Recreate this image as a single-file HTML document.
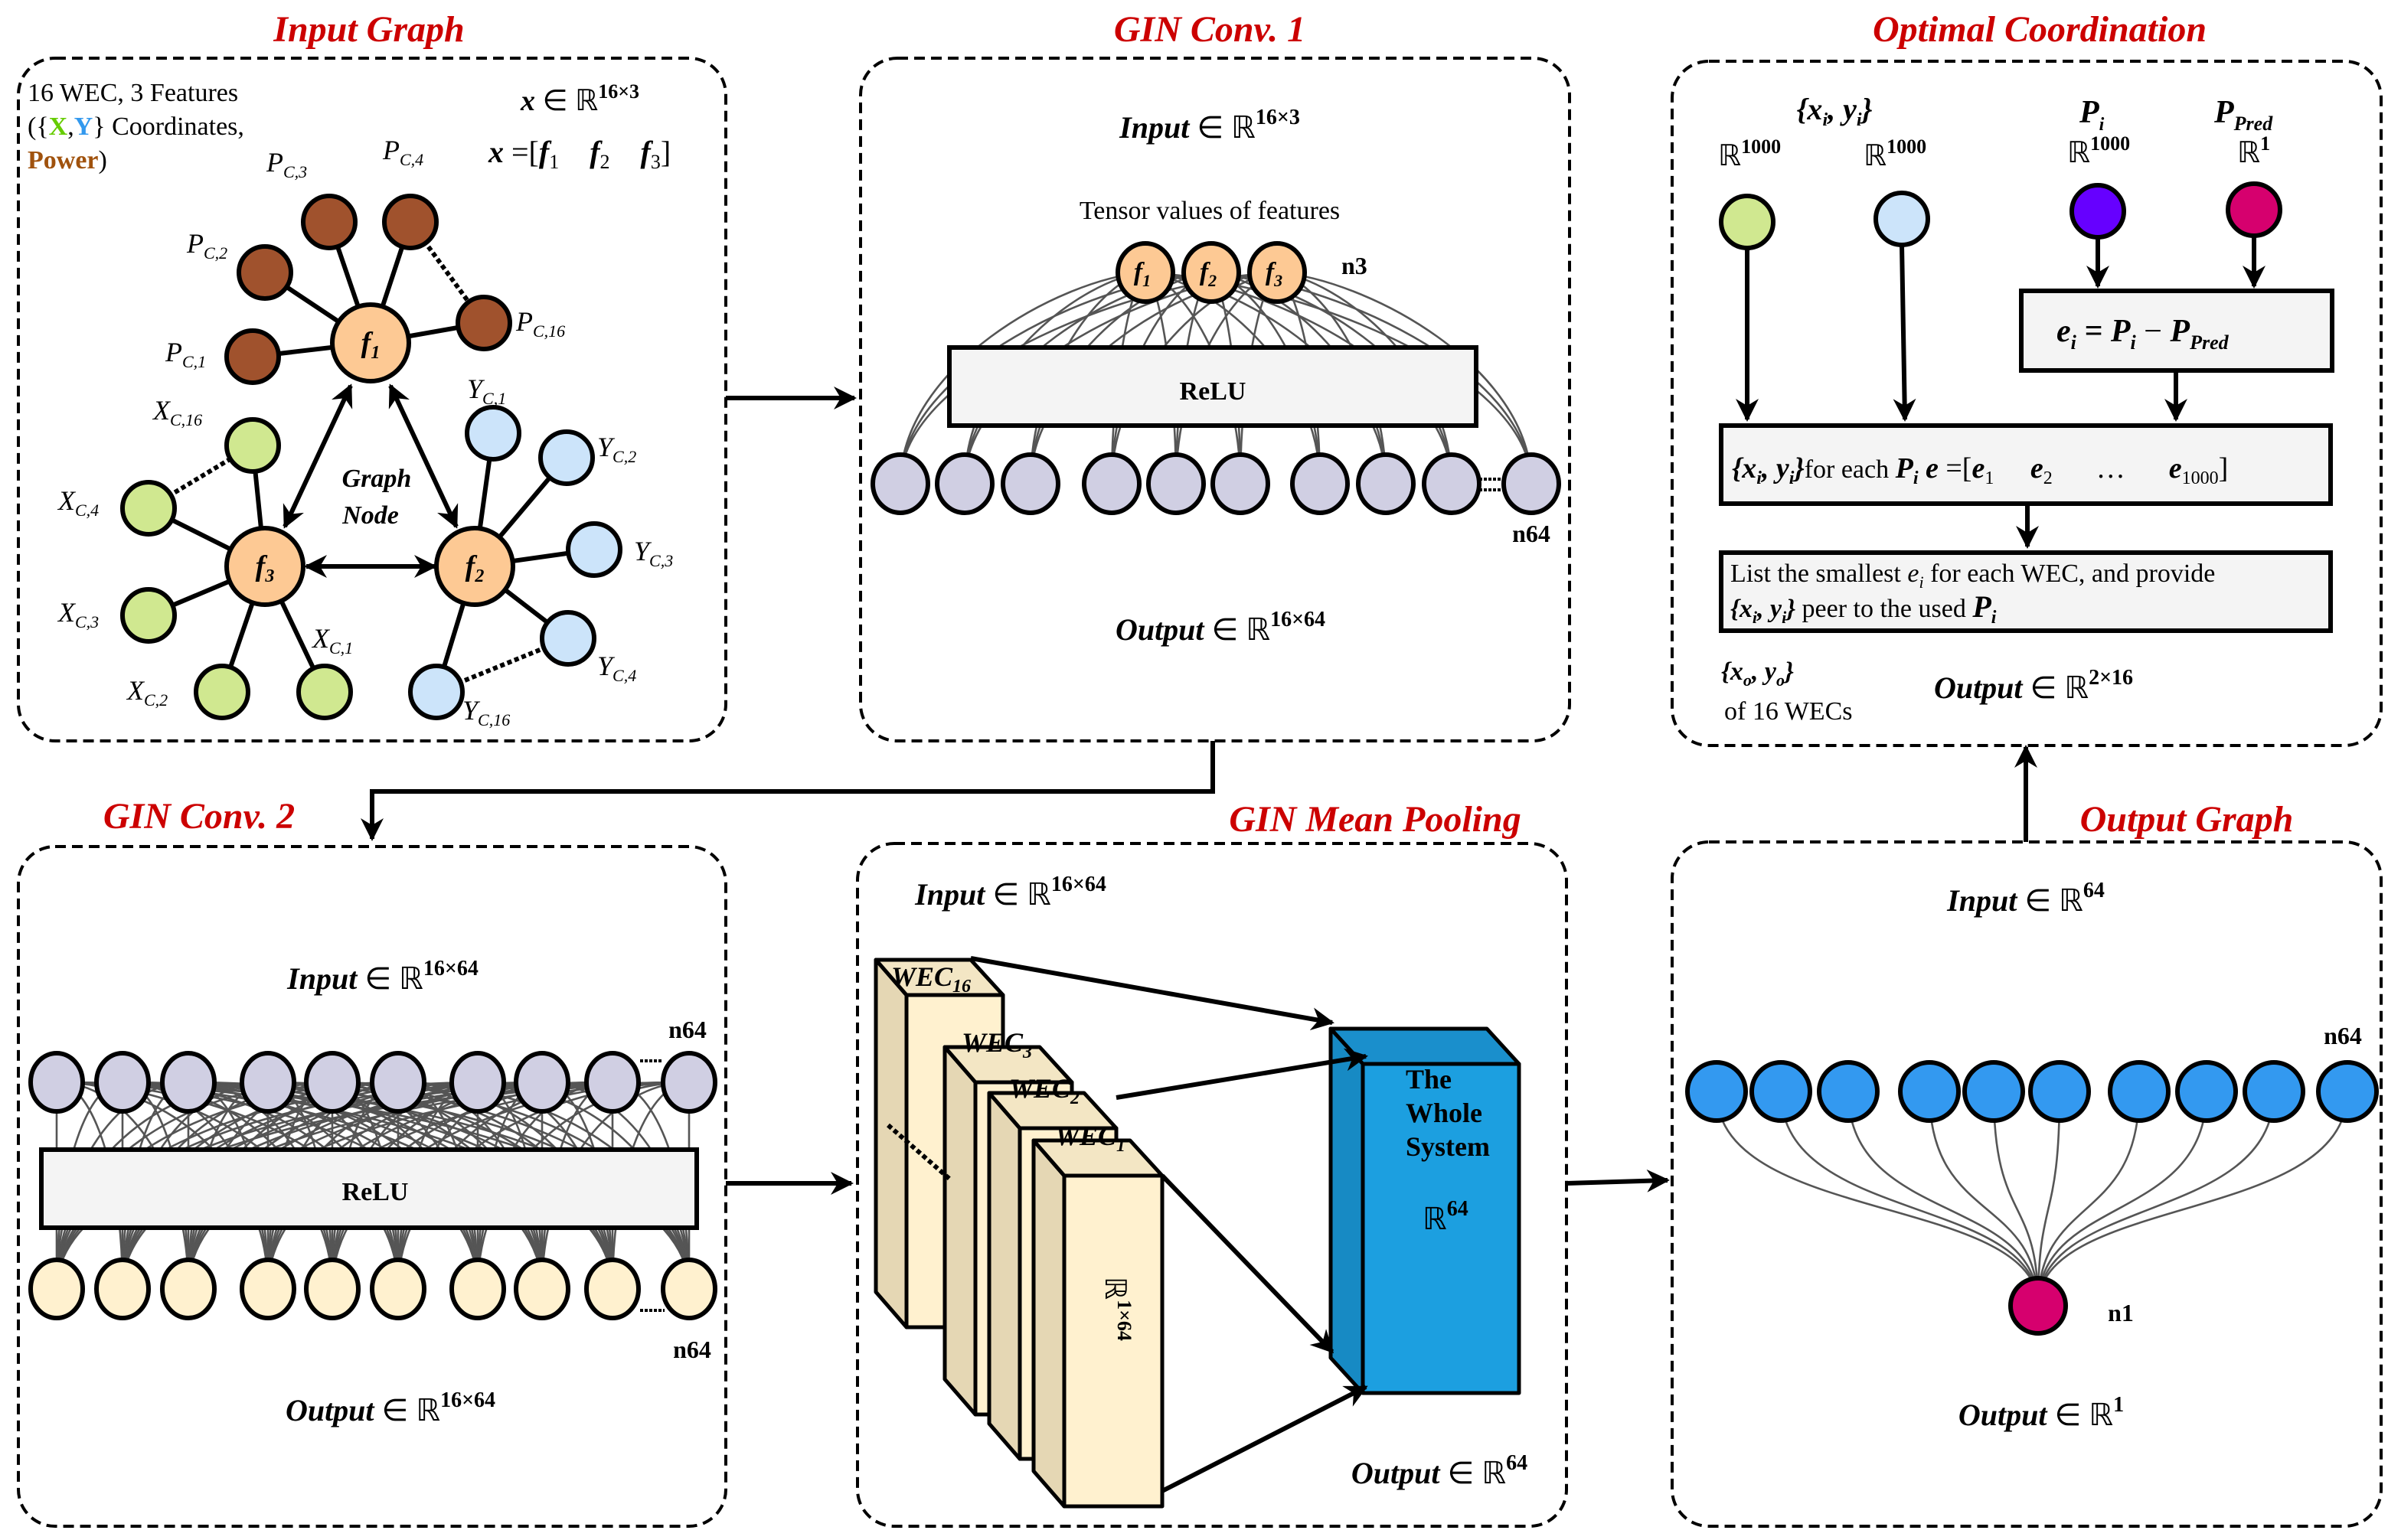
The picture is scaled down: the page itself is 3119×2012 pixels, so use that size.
<!DOCTYPE html>
<html><head><meta charset="utf-8"><style>
html,body{margin:0;padding:0;background:#fff;}
svg{display:block;}
text{font-family:"Liberation Serif",serif;}
.t{fill:#cc0000;font-weight:bold;font-style:italic;font-size:24px;text-anchor:middle;}
.m{font-style:italic;font-weight:bold;}
.pn{fill:none;stroke:#000;stroke-width:2;stroke-dasharray:7,4;}
.ar{stroke:#000;stroke-width:3;fill:none;}
.pre{white-space:pre;}
</style></head><body>
<svg id="s" width="3119" height="2012" viewBox="0 0 1559.5 1006" xmlns="http://www.w3.org/2000/svg">
<defs>
<marker id="ah" viewBox="0 0 10 10" refX="9" refY="5" markerWidth="5" markerHeight="5" orient="auto-start-reverse"><path d="M0,0 L10,5 L0,10 L3,5z" fill="#000"/></marker>
</defs>
<rect width="1559.5" height="1006" fill="#fff"/>
<rect class="pn" x="12" y="38" width="462" height="446" rx="24"/>
<rect class="pn" x="562" y="38" width="463" height="446" rx="24"/>
<rect class="pn" x="1092" y="40" width="463" height="447" rx="24"/>
<rect class="pn" x="12" y="553" width="462" height="444" rx="24"/>
<rect class="pn" x="560" y="551" width="463" height="446" rx="24"/>
<rect class="pn" x="1092" y="550" width="463" height="447" rx="24"/>
<text class="t" x="241" y="27">Input Graph</text>
<text class="t" x="790" y="27">GIN Conv. 1</text>
<text class="t" x="1332" y="27">Optimal Coordination</text>
<text class="t" x="130" y="541">GIN Conv. 2</text>
<text class="t" x="898" y="543">GIN Mean Pooling</text>
<text class="t" x="1428" y="543">Output Graph</text>
<path class="ar" d="M474,260 L558,260" marker-end="url(#ah)"/>
<path class="ar" d="M792,484 L792,517 L243,517 L243,548" marker-end="url(#ah)"/>
<path class="ar" d="M474,773 L556,773" marker-end="url(#ah)"/>
<path class="ar" d="M1023,773 L1089,771" marker-end="url(#ah)"/>
<path class="ar" d="M1323,550 L1323,488" marker-end="url(#ah)"/>

<g id="lines" stroke="#555" stroke-width="1.3" fill="none"></g>

<!-- INPUT GRAPH -->
<g stroke="#000" stroke-width="3">
<line x1="242" y1="224" x2="165" y2="233"/><line x1="242" y1="224" x2="173" y2="178"/><line x1="242" y1="224" x2="215" y2="145"/><line x1="242" y1="224" x2="268" y2="145"/><line x1="242" y1="224" x2="316" y2="211"/>
<line x1="173" y1="370" x2="165" y2="291"/><line x1="173" y1="370" x2="97" y2="332"/><line x1="173" y1="370" x2="97" y2="402"/><line x1="173" y1="370" x2="145" y2="452"/><line x1="173" y1="370" x2="212" y2="452"/>
<line x1="310" y1="370" x2="322" y2="283"/><line x1="310" y1="370" x2="370" y2="299"/><line x1="310" y1="370" x2="388" y2="359"/><line x1="310" y1="370" x2="371" y2="417"/><line x1="310" y1="370" x2="285" y2="452"/>
</g>
<g stroke="#000" stroke-width="3" stroke-dasharray="3,2"><line x1="268" y1="145" x2="316" y2="211"/><line x1="97" y1="332" x2="165" y2="291"/><line x1="285" y1="452" x2="371" y2="417"/></g>
<g stroke="#000" stroke-width="3" fill="none">
<path d="M229,252 L186,344" marker-start="url(#ah)" marker-end="url(#ah)"/>
<path d="M255,252 L298,344" marker-start="url(#ah)" marker-end="url(#ah)"/>
<path d="M200,370 L284,370" marker-start="url(#ah)" marker-end="url(#ah)"/>
</g>
<g stroke="#000" stroke-width="3">
<g fill="#a0522d"><circle cx="165" cy="233" r="17"/><circle cx="173" cy="178" r="17"/><circle cx="215" cy="145" r="17"/><circle cx="268" cy="145" r="17"/><circle cx="316" cy="211" r="17"/></g>
<g fill="#d0e890"><circle cx="165" cy="291" r="17"/><circle cx="97" cy="332" r="17"/><circle cx="97" cy="402" r="17"/><circle cx="145" cy="452" r="17"/><circle cx="212" cy="452" r="17"/></g>
<g fill="#cce4fa"><circle cx="322" cy="283" r="17"/><circle cx="370" cy="299" r="17"/><circle cx="388" cy="359" r="17"/><circle cx="371" cy="417" r="17"/><circle cx="285" cy="452" r="17"/></g>
<g fill="#fdc994"><circle cx="242" cy="224" r="25"/><circle cx="310" cy="370" r="25"/><circle cx="173" cy="370" r="25"/></g>
</g>
<g class="m" font-size="19" text-anchor="middle">
<text x="242" y="230">f<tspan font-size="12" dy="4">1</tspan></text><text x="310" y="376">f<tspan font-size="12" dy="4">2</tspan></text><text x="173" y="376">f<tspan font-size="12" dy="4">3</tspan></text>
</g>
<g font-style="italic" font-size="18">
<text x="108" y="236">P<tspan font-size="11" dy="4">C,1</tspan></text>
<text x="122" y="165">P<tspan font-size="11" dy="4">C,2</tspan></text>
<text x="174" y="112">P<tspan font-size="11" dy="4">C,3</tspan></text>
<text x="250" y="104">P<tspan font-size="11" dy="4">C,4</tspan></text>
<text x="337" y="216">P<tspan font-size="11" dy="4">C,16</tspan></text>
<text x="100" y="274">X<tspan font-size="11" dy="4">C,16</tspan></text>
<text x="38" y="333">X<tspan font-size="11" dy="4">C,4</tspan></text>
<text x="38" y="406">X<tspan font-size="11" dy="4">C,3</tspan></text>
<text x="83" y="457">X<tspan font-size="11" dy="4">C,2</tspan></text>
<text x="204" y="423">X<tspan font-size="11" dy="4">C,1</tspan></text>
<text x="305" y="260">Y<tspan font-size="11" dy="4">C,1</tspan></text>
<text x="390" y="298">Y<tspan font-size="11" dy="4">C,2</tspan></text>
<text x="414" y="366">Y<tspan font-size="11" dy="4">C,3</tspan></text>
<text x="390" y="441">Y<tspan font-size="11" dy="4">C,4</tspan></text>
<text x="302" y="470">Y<tspan font-size="11" dy="4">C,16</tspan></text>
</g>
<text x="246" y="318" class="m" font-size="17" text-anchor="middle">Graph</text>
<text x="242" y="342" class="m" font-size="17" text-anchor="middle">Node</text>
<text x="18" y="66" font-size="17">16 WEC, 3 Features</text>
<text x="18" y="88" font-size="17">({<tspan fill="#66cc00" font-weight="bold">X</tspan>,<tspan fill="#3399ee" font-weight="bold">Y</tspan>} Coordinates,</text>
<text x="18" y="110" font-size="17"><tspan fill="#a0520d" font-weight="bold">Power</tspan>)</text>
<text x="340" y="72" font-size="19"><tspan class="m">x</tspan> ∈ ℝ<tspan font-size="13" dy="-8" font-weight="bold">16×3</tspan></text>
<text x="319" y="106" font-size="20" class="pre"><tspan class="m">x</tspan> =[<tspan class="m">f</tspan><tspan font-size="13" dy="4">1</tspan><tspan dy="-4" class="m">    f</tspan><tspan font-size="13" dy="4">2</tspan><tspan dy="-4" class="m">    f</tspan><tspan font-size="13" dy="4">3</tspan><tspan dy="-4">]</tspan></text>

<!-- GIN CONV 1 -->
<text x="790" y="90" font-size="20" text-anchor="middle"><tspan class="m">Input</tspan> ∈ ℝ<tspan font-size="14" dy="-9" font-weight="bold">16×3</tspan></text>
<text x="790" y="143" font-size="17" text-anchor="middle">Tensor values of features</text>
<rect x="620" y="227" width="344" height="51" fill="#f4f4f4" stroke="#000" stroke-width="3"/>
<text x="792" y="261" font-size="17" font-weight="bold" text-anchor="middle">ReLU</text>
<g stroke="#000" stroke-width="3" fill="#fdc994"><ellipse cx="748" cy="178" rx="18" ry="19"/><ellipse cx="791" cy="178" rx="18" ry="19"/><ellipse cx="834" cy="178" rx="18" ry="19"/></g>
<g class="m" font-size="17" text-anchor="middle"><text x="746" y="183">f<tspan font-size="11" dy="4">1</tspan></text><text x="789" y="183">f<tspan font-size="11" dy="4">2</tspan></text><text x="832" y="183">f<tspan font-size="11" dy="4">3</tspan></text></g>
<text x="876" y="179" font-size="16" font-weight="bold">n3</text>
<line x1="966" y1="313" x2="982" y2="313" stroke="#000" stroke-width="2" stroke-dasharray="2,1"/><line x1="966" y1="320" x2="982" y2="320" stroke="#000" stroke-width="2" stroke-dasharray="2,1"/>
<g id="c1b" stroke="#000" stroke-width="3" fill="#d0cfe3"></g>
<text x="1000" y="354" font-size="16" font-weight="bold" text-anchor="middle">n64</text>
<text x="797" y="418" font-size="20" text-anchor="middle"><tspan class="m">Output</tspan> ∈ ℝ<tspan font-size="14" dy="-9" font-weight="bold">16×64</tspan></text>

<!-- GIN CONV 2 -->
<text x="250" y="646" font-size="20" text-anchor="middle"><tspan class="m">Input</tspan> ∈ ℝ<tspan font-size="14" dy="-9" font-weight="bold">16×64</tspan></text>
<rect x="27" y="751" width="428" height="51" fill="#f4f4f4" stroke="#000" stroke-width="3"/>
<text x="245" y="784" font-size="17" font-weight="bold" text-anchor="middle">ReLU</text>
<line x1="418" y1="693" x2="432" y2="693" stroke="#000" stroke-width="2" stroke-dasharray="2,1"/>
<line x1="418" y1="856" x2="434" y2="856" stroke="#000" stroke-width="2" stroke-dasharray="2,1"/>
<g id="c2t" stroke="#000" stroke-width="3" fill="#d0cfe3"></g>
<g id="c2b" stroke="#000" stroke-width="3" fill="#fff1cf"></g>
<text x="449" y="678" font-size="16" font-weight="bold" text-anchor="middle">n64</text>
<text x="452" y="887" font-size="16" font-weight="bold" text-anchor="middle">n64</text>
<text x="255" y="928" font-size="20" text-anchor="middle"><tspan class="m">Output</tspan> ∈ ℝ<tspan font-size="14" dy="-9" font-weight="bold">16×64</tspan></text>

<!-- MEAN POOLING -->
<text x="660" y="591" font-size="20" text-anchor="middle"><tspan class="m">Input</tspan> ∈ ℝ<tspan font-size="14" dy="-9" font-weight="bold">16×64</tspan></text>
<g stroke="#000" stroke-width="2.5" stroke-linejoin="round">
<g><path d="M572,627 L592,650 L592,867 L572,844Z" fill="#e5d7b4"/><path d="M572,627 L634,627 L655,650 L592,650Z" fill="#f3e6c4"/><rect x="592" y="650" width="63" height="217" fill="#fff1cf"/></g>
<g><path d="M617,684 L637,707 L637,924 L617,901Z" fill="#e5d7b4"/><path d="M617,684 L679,684 L700,707 L637,707Z" fill="#f3e6c4"/><rect x="637" y="707" width="63" height="217" fill="#fff1cf"/></g>
<g><path d="M646,714 L666,737 L666,953 L646,930Z" fill="#e5d7b4"/><path d="M646,714 L708,714 L729,737 L666,737Z" fill="#f3e6c4"/><rect x="666" y="737" width="63" height="216" fill="#fff1cf"/></g>
<g><path d="M675,745 L695,768 L695,984 L675,961Z" fill="#e5d7b4"/><path d="M675,745 L738,745 L759,768 L695,768Z" fill="#f3e6c4"/><rect x="695" y="768" width="64" height="216" fill="#fff1cf"/></g>
<path d="M869,672 L971,672 L992,695 L890,695Z" fill="#1a8fcc"/><path d="M869,672 L890,695 L890,910 L869,887Z" fill="#178ac4"/><rect x="890" y="695" width="102" height="215" fill="#1c9fe0"/>
</g>
<line x1="580" y1="735" x2="620" y2="770" stroke="#000" stroke-width="3" stroke-dasharray="3,2"/>
<g class="m" font-size="18" font-weight="normal"><text x="582" y="644">WEC<tspan font-size="12" dy="4">16</tspan></text><text x="628" y="687">WEC<tspan font-size="12" dy="4">3</tspan></text><text x="659" y="717">WEC<tspan font-size="12" dy="4">2</tspan></text><text x="689" y="748">WEC<tspan font-size="12" dy="4">1</tspan></text></g>
<text transform="translate(722,834) rotate(90)" font-size="19">ℝ<tspan font-size="13" dy="-8" font-weight="bold">1×64</tspan></text>
<g stroke="#000" stroke-width="3" fill="none">
<path d="M634,626 L870,668" marker-end="url(#ah)"/>
<path d="M729,717 L892,690" marker-end="url(#ah)"/>
<path d="M759,768 L870,883" marker-end="url(#ah)"/>
<path d="M759,974 L892,906" marker-end="url(#ah)"/>
</g>
<g font-size="18" font-weight="bold"><text x="918" y="711">The</text><text x="918" y="733">Whole</text><text x="918" y="755">System</text></g>
<text x="929" y="803" font-size="20">ℝ<tspan font-size="14" dy="-9" font-weight="bold">64</tspan></text>
<text x="940" y="969" font-size="20" text-anchor="middle"><tspan class="m">Output</tspan> ∈ ℝ<tspan font-size="14" dy="-9" font-weight="bold">64</tspan></text>

<!-- OUTPUT GRAPH -->
<text x="1323" y="595" font-size="20" text-anchor="middle"><tspan class="m">Input</tspan> ∈ ℝ<tspan font-size="14" dy="-9" font-weight="bold">64</tspan></text>
<g id="og" stroke="#000" stroke-width="3" fill="#3399f0"></g>
<circle cx="1331" cy="853" r="18" fill="#d6006e" stroke="#000" stroke-width="3"/>
<text x="1530" y="682" font-size="16" font-weight="bold" text-anchor="middle">n64</text>
<text x="1385" y="863" font-size="16" font-weight="bold" text-anchor="middle">n1</text>
<text x="1333" y="931" font-size="20" text-anchor="middle"><tspan class="m">Output</tspan> ∈ ℝ<tspan font-size="14" dy="-9" font-weight="bold">1</tspan></text>

<!-- OPTIMAL COORDINATION -->
<text x="1198" y="78" font-size="20" class="m" text-anchor="middle">{x<tspan font-size="12" dy="4">i</tspan><tspan dy="-4">, y</tspan><tspan font-size="12" dy="4">i</tspan><tspan dy="-4">}</tspan></text>
<text x="1122" y="108" font-size="19">ℝ<tspan font-size="13" dy="-8" font-weight="bold">1000</tspan></text>
<text x="1217" y="108" font-size="19">ℝ<tspan font-size="13" dy="-8" font-weight="bold">1000</tspan></text>
<text x="1358" y="80" font-size="21" class="m">P<tspan font-size="12" dy="5">i</tspan></text>
<text x="1350" y="106" font-size="19">ℝ<tspan font-size="13" dy="-8" font-weight="bold">1000</tspan></text>
<text x="1446" y="80" font-size="21" class="m">P<tspan font-size="13" dy="5">Pred</tspan></text>
<text x="1461" y="106" font-size="19">ℝ<tspan font-size="13" dy="-8" font-weight="bold">1</tspan></text>
<g stroke="#000" stroke-width="3">
<circle cx="1141" cy="145" r="17" fill="#d0e890"/><circle cx="1242" cy="143" r="17" fill="#cce4fa"/><circle cx="1370" cy="138" r="17" fill="#6600ff"/><circle cx="1472" cy="137" r="17" fill="#d6006e"/>
</g>
<g stroke="#000" stroke-width="3" fill="none">
<path d="M1141,162 L1141,274" marker-end="url(#ah)"/>
<path d="M1242,160 L1244,274" marker-end="url(#ah)"/>
<path d="M1370,155 L1370,187" marker-end="url(#ah)"/>
<path d="M1472,154 L1472,187" marker-end="url(#ah)"/>
<path d="M1421,242 L1421,274" marker-end="url(#ah)"/>
<path d="M1324,329 L1324,357" marker-end="url(#ah)"/>
</g>
<rect x="1320" y="190" width="203" height="52" fill="#f4f4f4" stroke="#000" stroke-width="3"/>
<text x="1343" y="223" font-size="21" class="m pre">e<tspan font-size="13" dy="5">i</tspan><tspan dy="-5"> = P</tspan><tspan font-size="13" dy="5">i</tspan><tspan dy="-5" font-weight="normal" font-style="normal"> − </tspan>P<tspan font-size="13" dy="5">Pred</tspan></text>
<rect x="1124" y="278" width="398" height="51" fill="#f4f4f4" stroke="#000" stroke-width="3"/>
<text x="1131" y="312" font-size="19" class="pre"><tspan class="m">{x</tspan><tspan class="m" font-size="12" dy="4">i</tspan><tspan class="m" dy="-4">, y</tspan><tspan class="m" font-size="12" dy="4">i</tspan><tspan class="m" dy="-4">}</tspan><tspan font-size="17">for each </tspan><tspan class="m">P</tspan><tspan class="m" font-size="12" dy="4">i</tspan><tspan dy="-4" class="m"> e</tspan> =[<tspan class="m">e</tspan><tspan font-size="12" dy="4">1</tspan><tspan dy="-4" class="m">     e</tspan><tspan font-size="12" dy="4">2</tspan><tspan dy="-4">      …      </tspan><tspan class="m">e</tspan><tspan font-size="12" dy="4">1000</tspan><tspan dy="-4">]</tspan></text>
<rect x="1124" y="361" width="398" height="51" fill="#f4f4f4" stroke="#000" stroke-width="3"/>
<text x="1130" y="380" font-size="17">List the smallest <tspan font-style="italic">e</tspan><tspan font-size="11" dy="4" font-style="italic">i</tspan><tspan dy="-4"> for each WEC, and provide</tspan></text>
<text x="1130" y="403" font-size="17"><tspan class="m">{x</tspan><tspan class="m" font-size="11" dy="4">i</tspan><tspan class="m" dy="-4">, y</tspan><tspan class="m" font-size="11" dy="4">i</tspan><tspan class="m" dy="-4">}</tspan> peer to the used <tspan class="m" font-size="20">P</tspan><tspan class="m" font-size="12" dy="4">i</tspan></text>
<text x="1124" y="444" font-size="17"><tspan class="m">{x</tspan><tspan class="m" font-size="11" dy="4">o</tspan><tspan class="m" dy="-4">, y</tspan><tspan class="m" font-size="11" dy="4">o</tspan><tspan class="m" dy="-4">}</tspan></text>
<text x="1126" y="470" font-size="17">of 16 WECs</text>
<text x="1328" y="456" font-size="20" text-anchor="middle"><tspan class="m">Output</tspan> ∈ ℝ<tspan font-size="14" dy="-9" font-weight="bold">2×16</tspan></text>
</svg>
<script>
(function(){
var NS="http://www.w3.org/2000/svg";
function el(p,t,a){var e=document.createElementNS(NS,t);for(var k in a)e.setAttribute(k,a[k]);p.appendChild(e);return e;}
var L=document.getElementById('lines');
var c1=[588,630,673,726,768,810,862,905,948,1000];
var fx=[748,791,834];
fx.forEach(function(f){c1.forEach(function(b){var cx=f+(b-f)*0.35;el(L,'path',{d:'M'+f+',178 C'+cx+',182 '+b+',240 '+b+',316'});});});
var c2=[37,80,123,175,217,260,312,354,400,450];
c2.forEach(function(a){c2.forEach(function(b){var cx=a+(b-a)*0.5;el(L,'path',{d:'M'+a+',707 C'+cx+',707 '+b+',760 '+b+',842'});});});
var og=[1121,1163,1207,1260,1302,1345,1397,1441,1485,1533];
og.forEach(function(a){el(L,'path',{d:'M'+a+',713 C'+a+',800 1331,780 1331,853'});});
var g=document.getElementById('c1b');c1.forEach(function(x){el(g,'ellipse',{cx:x,cy:316,rx:18,ry:19});});
g=document.getElementById('c2t');c2.forEach(function(x){el(g,'ellipse',{cx:x,cy:707,rx:17,ry:19});});
g=document.getElementById('c2b');c2.forEach(function(x){el(g,'ellipse',{cx:x,cy:842,rx:17,ry:19});});
g=document.getElementById('og');og.forEach(function(x){el(g,'circle',{cx:x,cy:713,r:19});});
})();
</script>
</body></html>
